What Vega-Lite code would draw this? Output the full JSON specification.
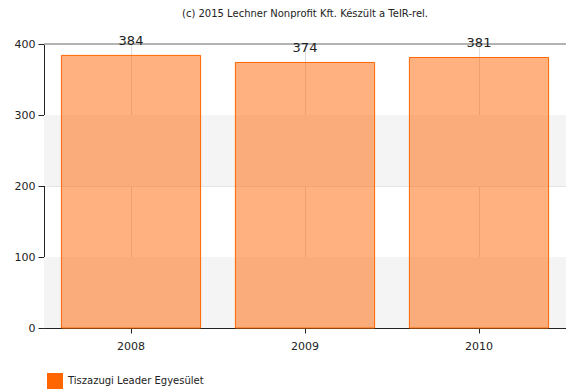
{
  "$schema": "https://vega.github.io/schema/vega-lite/v6.json",
  "width": 522,
  "height": 284,
  "autosize": "none",
  "padding": {"left": 44, "top": 44, "right": 0, "bottom": 61},
  "background": "white",
  "config": {
    "view": {"stroke": null},
    "font": "DejaVu Sans"
  },
  "title": {
    "text": "(c) 2015 Lechner Nonprofit Kft. Készült a TeIR-rel.",
    "fontSize": 10,
    "fontWeight": "normal",
    "color": "#222",
    "anchor": "middle",
    "offset": 16
  },
  "datasets": {
    "bars": [
      {"year": "2008", "value": 384, "series": "Tiszazugi Leader Egyesület"},
      {"year": "2009", "value": 374, "series": "Tiszazugi Leader Egyesület"},
      {"year": "2010", "value": 381, "series": "Tiszazugi Leader Egyesület"}
    ],
    "bands": [
      {"lo": 0, "hi": 100},
      {"lo": 200, "hi": 300}
    ]
  },
  "layer": [
    {
      "data": {"name": "bands"},
      "mark": {"type": "rect", "color": "#f4f4f4"},
      "encoding": {
        "y": {"field": "lo", "type": "quantitative", "scale": {"domain": [0, 400]}},
        "y2": {"field": "hi"}
      }
    },
    {
      "data": {"name": "bars"},
      "mark": {"type": "bar", "fill": "#ff6600", "fillOpacity": 0.5, "stroke": "#ff6600", "strokeWidth": 1},
      "encoding": {
        "x": {
          "field": "year", "type": "nominal",
          "scale": {"paddingInner": 0.2, "paddingOuter": 0.1},
          "axis": {
            "title": null, "labelAngle": 0, "labelFontSize": 11, "labelColor": "#222",
            "domainColor": "#222", "tickColor": "#222", "tickSize": 5, "labelPadding": 7,
            "grid": true, "gridColor": "#ddd", "bandPosition": 0.5
          }
        },
        "y": {
          "field": "value", "type": "quantitative",
          "scale": {"domain": [0, 400]},
          "axis": {
            "title": null, "values": [0, 100, 200, 300, 400], "labelFontSize": 11, "labelColor": "#222",
            "domainColor": "#222", "tickColor": "#222", "tickSize": 6, "labelPadding": 3,
            "grid": true, "gridColor": "#e4e4e4"
          }
        },
        "color": {
          "field": "series", "type": "nominal",
          "scale": {"range": ["#ff6600"]},
          "legend": {
            "title": null, "orient": "none", "legendX": 3, "legendY": 329,
            "symbolType": "square", "symbolSize": 256, "symbolOpacity": 1, "symbolFillColor": "#ff6600", "symbolStrokeWidth": 0,
            "labelFontSize": 10, "labelColor": "#222", "labelOffset": 5
          }
        }
      }
    },
    {
      "data": {"name": "bars"},
      "mark": {"type": "rule", "color": "#aaa", "strokeWidth": 1},
      "encoding": {"y": {"datum": 400}}
    },
    {
      "data": {"name": "bars"},
      "mark": {"type": "text", "dy": -14, "fontSize": 13, "color": "#222"},
      "encoding": {
        "x": {"field": "year", "type": "nominal"},
        "y": {"field": "value", "type": "quantitative"},
        "text": {"field": "value", "type": "quantitative"}
      }
    }
  ]
}
